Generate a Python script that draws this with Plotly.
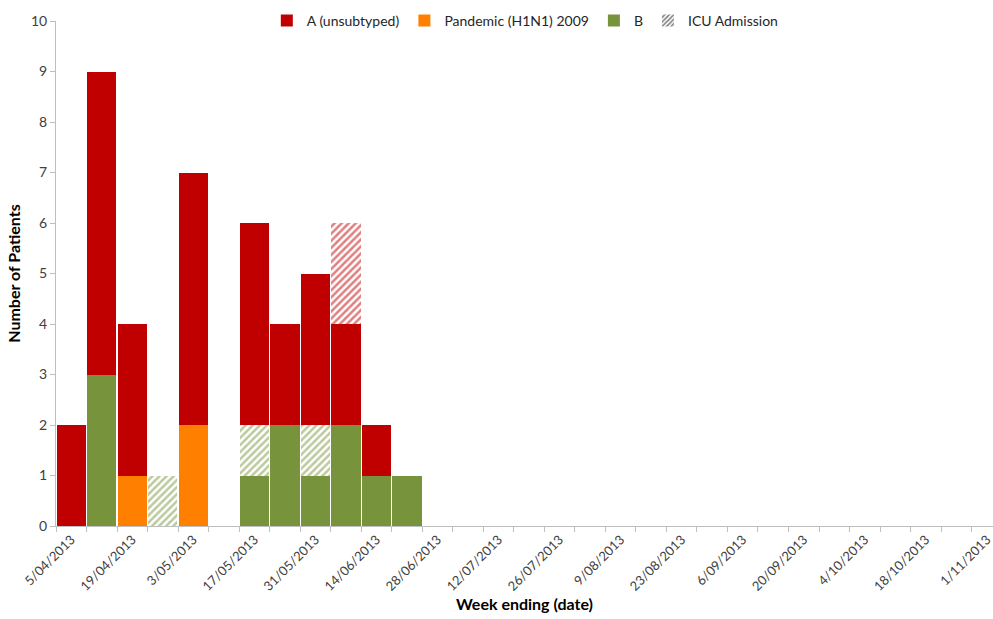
import plotly.graph_objects as go

# Weekly notification counts, week ending Friday
weeks = [
    "5/04/2013", "12/04/2013", "19/04/2013", "26/04/2013", "3/05/2013",
    "10/05/2013", "17/05/2013", "24/05/2013", "31/05/2013", "7/06/2013",
    "14/06/2013", "21/06/2013", "28/06/2013", "5/07/2013", "12/07/2013",
    "19/07/2013", "26/07/2013", "2/08/2013", "9/08/2013", "16/08/2013",
    "23/08/2013", "30/08/2013", "6/09/2013", "13/09/2013", "20/09/2013",
    "27/09/2013", "4/10/2013", "11/10/2013", "18/10/2013", "25/10/2013",
    "1/11/2013",
]

b_flu =       [0, 3, 0, 0, 0, 0, 1, 2, 1, 2, 1, 1] + [0] * 19
b_flu_icu =   [0, 0, 0, 1, 0, 0, 1, 0, 1, 0, 0, 0] + [0] * 19
h1n1_2009 =   [0, 0, 1, 0, 2, 0, 0, 0, 0, 0, 0, 0] + [0] * 19
a_unsubtyped = [2, 6, 3, 0, 5, 0, 4, 2, 3, 2, 1, 0] + [0] * 19
a_unsub_icu = [0, 0, 0, 0, 0, 0, 0, 0, 0, 2, 0, 0] + [0] * 19

RED = "#C00000"
ORANGE = "#FF8000"
GREEN = "#77933C"
FONT = "Lato"

x = list(range(len(weeks)))
label_idx = x[::2]

fig = go.Figure()

def solid(name, values, color, rank):
    fig.add_trace(go.Bar(
        x=x, y=values, name=name, legendrank=rank,
        marker=dict(color=color, line=dict(width=0)),
    ))

def hatched(name, values, color):
    fig.add_trace(go.Bar(
        x=x, y=values, name=name, showlegend=False,
        marker=dict(color="white", line=dict(width=0),
                    pattern=dict(shape="/", fgcolor=color, bgcolor="white",
                                 size=5, solidity=0.5, fillmode="overlay")),
    ))

# stacking order from the bottom up
solid("B", b_flu, GREEN, 3)
hatched("B (ICU)", b_flu_icu, GREEN)
solid("Pandemic (H1N1) 2009", h1n1_2009, ORANGE, 2)
solid("A (unsubtyped)", a_unsubtyped, RED, 1)
hatched("A (unsubtyped, ICU)", a_unsub_icu, RED)

# legend-only key for the hatching
fig.add_trace(go.Bar(
    x=[None], y=[None], name="ICU Admission", legendrank=4,
    marker=dict(color="white", line=dict(width=0),
                pattern=dict(shape="/", fgcolor="black", bgcolor="white",
                             size=4, solidity=0.5)),
))

AXIS_GREY = "#BFBFBF"
TEXT = "#404040"

fig.update_layout(
    width=993, height=619,
    barmode="stack", bargap=0.04,
    plot_bgcolor="white", paper_bgcolor="white",
    margin=dict(l=56, r=0, t=21, b=93, autoexpand=False),
    font=dict(family=FONT, size=14, color=TEXT),
    showlegend=True,
    legend=dict(orientation="h", x=0.225, xanchor="left", y=1.0, yanchor="middle",
                font=dict(family=FONT, size=14, color="#262626"),
                traceorder="normal", itemwidth=30, bgcolor="rgba(0,0,0,0)"),
    xaxis=dict(
        range=[-0.5, 30.2], automargin=False,
        tickmode="array", tickvals=label_idx,
        ticktext=[weeks[i] for i in label_idx],
        tickangle=-45, ticks="", showgrid=False, zeroline=False,
        ticklabeloverflow="allow",
        showline=True, linecolor=AXIS_GREY, linewidth=1,
        tickfont=dict(family=FONT, size=13, color=TEXT),
        minor=dict(ticks="outside", tick0=-0.5, dtick=1, ticklen=5,
                   tickcolor=AXIS_GREY, showgrid=False),
        title=dict(text="<b>Week ending (date)</b>",
                   font=dict(family=FONT, size=16, color="black"), standoff=4),
    ),
    yaxis=dict(
        range=[0, 10], tickmode="array", tickvals=list(range(11)),
        automargin=False,
        ticks="outside", ticklen=5, tickcolor=AXIS_GREY,
        showgrid=False, zeroline=False,
        showline=True, linecolor=AXIS_GREY, linewidth=1,
        tickfont=dict(family=FONT, size=14, color=TEXT),
        title=dict(text="<b>Number of Patients</b>",
                   font=dict(family=FONT, size=16, color="black"), standoff=6),
    ),
)

fig.write_html("out.html")
